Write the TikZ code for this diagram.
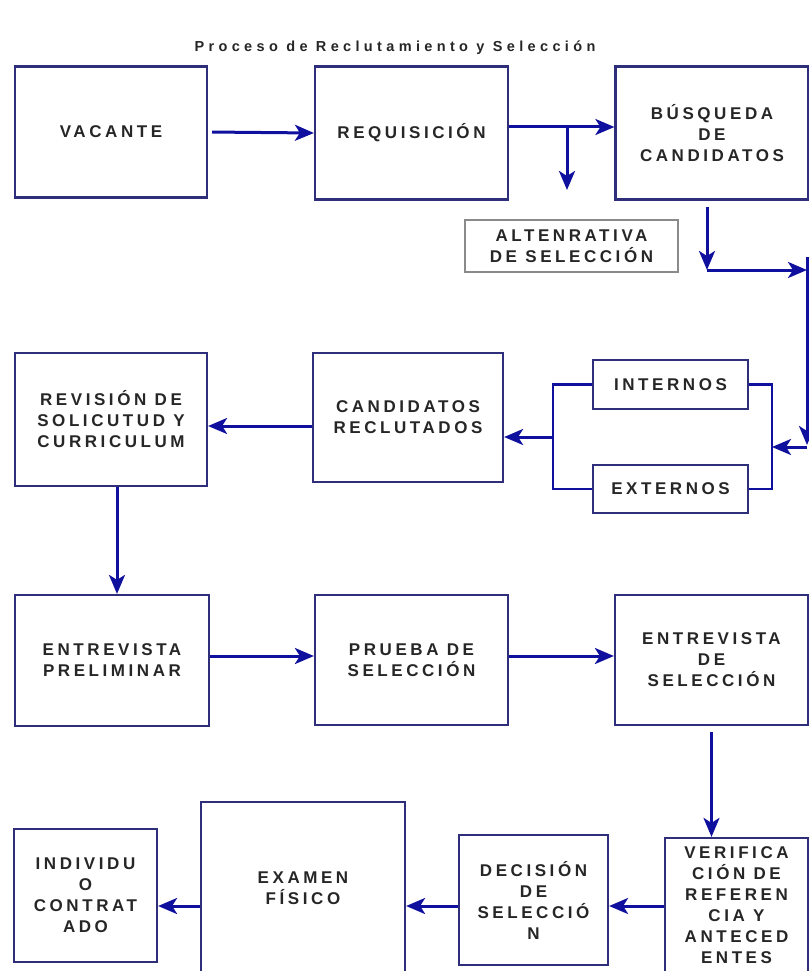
\documentclass[tikz,border=0pt]{standalone}
\usepackage{fontspec}
\setmainfont{Liberation Sans}
\newfontfamily\boxfont[LetterSpace=21]{Liberation Sans}
\newfontfamily\titlefont[LetterSpace=30]{Liberation Sans}
\usetikzlibrary{arrows.meta}
\definecolor{boxblue}{HTML}{2E2E7A}
\definecolor{arrowblue}{HTML}{10109E}
\definecolor{altgray}{HTML}{8A8A8A}
\definecolor{txtgray}{HTML}{262626}
\begin{document}
\begin{tikzpicture}[x=1pt,y=-1pt,
    box/.style={draw=boxblue,line width=2.2pt,align=center,inner sep=0pt,text=txtgray,
      font=\boxfont\bfseries\fontsize{17}{21}\selectfont},
    flow/.style={draw=arrowblue,line width=3pt,-{Stealth[length=19pt,width=16pt,inset=5pt]}},
    link/.style={draw=arrowblue,line width=2.6pt}]
  \useasboundingbox (0,0) rectangle (808,971);
  \node[text=txtgray,font=\titlefont\bfseries\fontsize{14.5}{17}\selectfont] (title) at (395,48)
    {Proceso de Reclutamiento y Selección};
  \node[box,minimum width=192pt,minimum height=131pt] (vacante) at (111,132) {VACANTE};
  \node[box,minimum width=193pt,minimum height=133pt] (requisicion) at (411.5,133) {REQUISICIÓN};
  \node[box,minimum width=193pt,minimum height=133pt] (busqueda) at (712,133) {BÚSQUEDA\\DE\\CANDIDATOS};
  \node[box,draw=altgray,line width=1.4pt,minimum width=213pt,minimum height=52pt] (alternativa) at (571.5,246)
    {ALTENRATIVA\\DE SELECCIÓN};
  \node[box,minimum width=155pt,minimum height=49pt] (internos) at (670.5,384.5) {INTERNOS};
  \node[box,minimum width=155pt,minimum height=48pt] (externos) at (670.5,489) {EXTERNOS};
  \node[box,minimum width=190pt,minimum height=129pt] (candidatos) at (408,417.5) {CANDIDATOS\\RECLUTADOS};
  \node[box,minimum width=192pt,minimum height=133pt] (revision) at (111,419.5)
    {REVISIÓN DE\\SOLICUTUD Y\\CURRICULUM};
  \node[box,minimum width=194pt,minimum height=131pt] (preliminar) at (112,660.5) {ENTREVISTA\\PRELIMINAR};
  \node[box,minimum width=193pt,minimum height=130pt] (prueba) at (411.5,660) {PRUEBA DE\\SELECCIÓN};
  \node[box,minimum width=193pt,minimum height=130pt] (entrevista) at (711.5,660) {ENTREVISTA\\DE\\SELECCIÓN};
  \node[box,minimum width=143pt,minimum height=134pt] (verifica) at (736.5,905)
    {VERIFICA\\CIÓN DE\\REFEREN\\CIA Y\\ANTECED\\ENTES};
  \node[box,minimum width=149pt,minimum height=130pt] (decision) at (533.5,900) {DECISIÓN\\DE\\SELECCIÓ\\N};
  \node[box,minimum width=204pt,minimum height=172pt] (examen) at (303,888) {EXAMEN\\FÍSICO};
  \node[box,minimum width=143pt,minimum height=133pt] (individuo) at (85.5,895.5)
    {INDIVIDU\\O\\CONTRAT\\ADO};
  \coordinate (split) at (567,127);
  \coordinate (alttip) at (567,190);
  \coordinate (bend) at (707,270);
  \coordinate (railtop) at (807,257);
  \coordinate (railbot) at (807,445);
  \coordinate (railout) at (807,447);
  \coordinate (rightbar) at (772,447);
  \coordinate (leftbar) at (553,437);
  \coordinate (row2) at (0,426);
  \coordinate (row3) at (0,656);
  \coordinate (row4) at (0,906);
  \draw[flow,shorten <=4pt] (vacante.east) -- (requisicion.west);
  \draw[flow] (requisicion.east |- split) -- (busqueda.west |- split);
  \draw[flow] (split) -- (alttip);
  \draw[flow,shorten <=6pt] (busqueda.south -| bend) -- (bend);
  \draw[flow] (bend) -- (bend -| railtop);
  \draw[flow] (railtop) -- (railbot);
  \draw[flow] (railout) -- (rightbar);
  \draw[link] (internos.east) -- (internos.east -| rightbar) -- (externos.east -| rightbar) -- (externos.east);
  \draw[link] (internos.west) -- (internos.west -| leftbar) -- (externos.west -| leftbar) -- (externos.west);
  \draw[flow] (leftbar) -- (candidatos.east |- leftbar);
  \draw[flow] (candidatos.west |- row2) -- (revision.east |- row2);
  \draw[flow] ([xshift=6pt]revision.south) -- ([xshift=5pt]preliminar.north);
  \draw[flow] (preliminar.east |- row3) -- (prueba.west |- row3);
  \draw[flow] (prueba.east |- row3) -- (entrevista.west |- row3);
  \draw[flow,shorten <=6pt] (entrevista.south) -- (entrevista.south |- verifica.north);
  \draw[flow] (verifica.west |- row4) -- (decision.east |- row4);
  \draw[flow] (decision.west |- row4) -- (examen.east |- row4);
  \draw[flow] (examen.west |- row4) -- (individuo.east |- row4);
\end{tikzpicture}
\end{document}
